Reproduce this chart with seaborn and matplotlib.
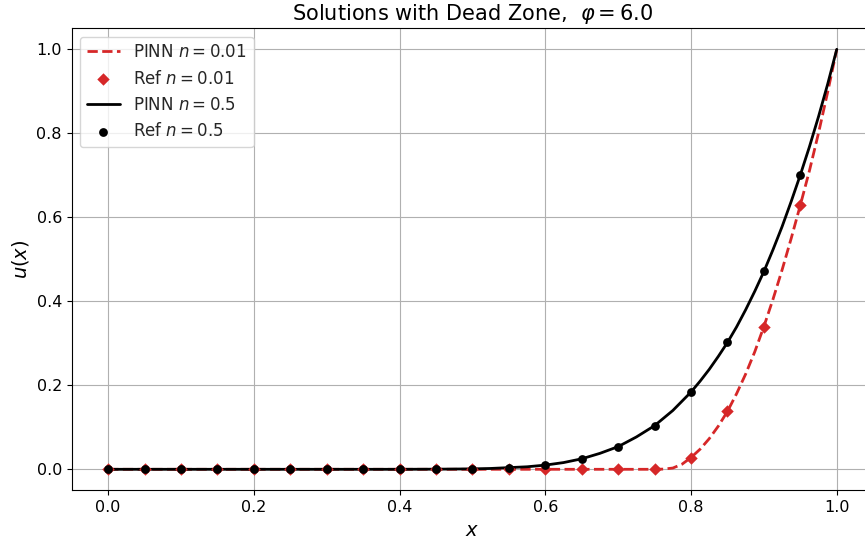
import numpy as np
import pandas as pd
import matplotlib
matplotlib.use("Agg")
import matplotlib.pyplot as plt
import seaborn as sns

# PINN curve, n = 0.01
pinn_001_x = [0.0, 0.05, 0.1, 0.15, 0.2, 0.25, 0.3, 0.35, 0.4, 0.45, 0.5, 0.55, 0.6, 0.65, 0.7, 0.75,
              0.7625, 0.775, 0.7875, 0.8, 0.8125, 0.825, 0.8375, 0.85, 0.8625, 0.875, 0.8875,
              0.9, 0.9125, 0.925, 0.9375, 0.95, 0.9625, 0.975, 0.9875, 1.0]
pinn_001_u = [0.0, 0.0, 0.0, 0.0, 0.0, 0.0, 0.0, 0.0, 0.0, 0.0, 0.0, 0.0, 0.0, 0.0, 0.0, 0.0,
              0.0005, 0.003, 0.012, 0.028, 0.048, 0.073, 0.103, 0.138, 0.180, 0.227, 0.280,
              0.340, 0.405, 0.475, 0.550, 0.629, 0.711, 0.801, 0.898, 1.0]

# reference points, n = 0.01
ref_x = [0.0, 0.05, 0.1, 0.15, 0.2, 0.25, 0.3, 0.35, 0.4, 0.45, 0.5, 0.55, 0.6, 0.65, 0.7, 0.75,
         0.8, 0.85, 0.9, 0.95]
ref_001_u = [0.0, 0.0, 0.0, 0.0, 0.0, 0.0, 0.0, 0.0, 0.0, 0.0, 0.0, 0.0, 0.0, 0.0, 0.0, 0.0,
             0.028, 0.138, 0.340, 0.629]

# PINN curve, n = 0.5
pinn_05_x = [0.0, 0.05, 0.1, 0.15, 0.2, 0.25, 0.3, 0.35, 0.4, 0.45, 0.5, 0.525, 0.55, 0.575,
             0.6, 0.625, 0.65, 0.675, 0.7, 0.725, 0.75, 0.775, 0.8, 0.8125, 0.825, 0.8375,
             0.85, 0.8625, 0.875, 0.8875, 0.9, 0.9125, 0.925, 0.9375, 0.95, 0.9625, 0.975,
             0.9875, 1.0]
pinn_05_u = [0.0, 0.0, 0.0, 0.0, 0.0, 0.0, 0.0, 0.0, 0.0, 0.0003, 0.001, 0.002, 0.004, 0.006,
             0.010, 0.016, 0.025, 0.038, 0.054, 0.077, 0.104, 0.140, 0.184, 0.210, 0.238, 0.269,
             0.302, 0.339, 0.380, 0.424, 0.471, 0.523, 0.578, 0.638, 0.701, 0.768, 0.840,
             0.917, 1.0]

# reference points, n = 0.5
ref_05_u = [0.0, 0.0, 0.0, 0.0, 0.0, 0.0, 0.0, 0.0, 0.0, 0.0, 0.001, 0.004, 0.010, 0.025, 0.054, 0.104,
            0.184, 0.302, 0.471, 0.701]

red = "#d62728"

sns.set_theme(style="ticks")
plt.rcParams["font.family"] = ["DejaVu Sans"]
plt.rcParams["mathtext.fontset"] = "dejavusans"

fig = plt.figure(figsize=(8.65, 5.4), dpi=100)
ax = fig.add_axes([71.7 / 865, 49.7 / 540, 801.5 / 865, 462 / 540])

sns.lineplot(x=pinn_001_x, y=pinn_001_u, ax=ax, color=red, linestyle="--", linewidth=2,
             label=r"PINN $n = 0.01$", estimator=None, sort=False)
sns.scatterplot(x=ref_x, y=ref_001_u, ax=ax, color=red, marker="D", s=40, linewidth=0,
                label=r"Ref $n = 0.01$", zorder=3)
sns.lineplot(x=pinn_05_x, y=pinn_05_u, ax=ax, color="black", linestyle="-", linewidth=2,
             label=r"PINN $n = 0.5$", estimator=None, sort=False)
sns.scatterplot(x=ref_x, y=ref_05_u, ax=ax, color="black", marker="o", s=40, linewidth=0,
                label=r"Ref $n = 0.5$", zorder=4)

ax.set_xlim(-0.05, 1.05)
ax.set_ylim(-0.05, 1.05)
ax.set_xticks([0.0, 0.2, 0.4, 0.6, 0.8, 1.0])
ax.set_yticks([0.0, 0.2, 0.4, 0.6, 0.8, 1.0])
ax.grid(True, color="#b0b0b0", linewidth=0.8)
ax.tick_params(labelsize=11.5, length=3.5, width=0.8, color="black", labelcolor="black")
for s in ax.spines.values():
    s.set_color("black")
    s.set_linewidth(0.8)

ax.set_xlabel(r"$x$", fontsize=14, color="black")
ax.set_ylabel(r"$u(x)$", fontsize=14, color="black")
ax.set_title(r"Solutions with Dead Zone,  $\varphi = 6.0$", fontsize=15, color="black")

ax.legend(loc="upper left", fontsize=12, frameon=True, framealpha=0.8, edgecolor="#cccccc",
          fancybox=True)

fig.savefig("out.png", dpi=100)
